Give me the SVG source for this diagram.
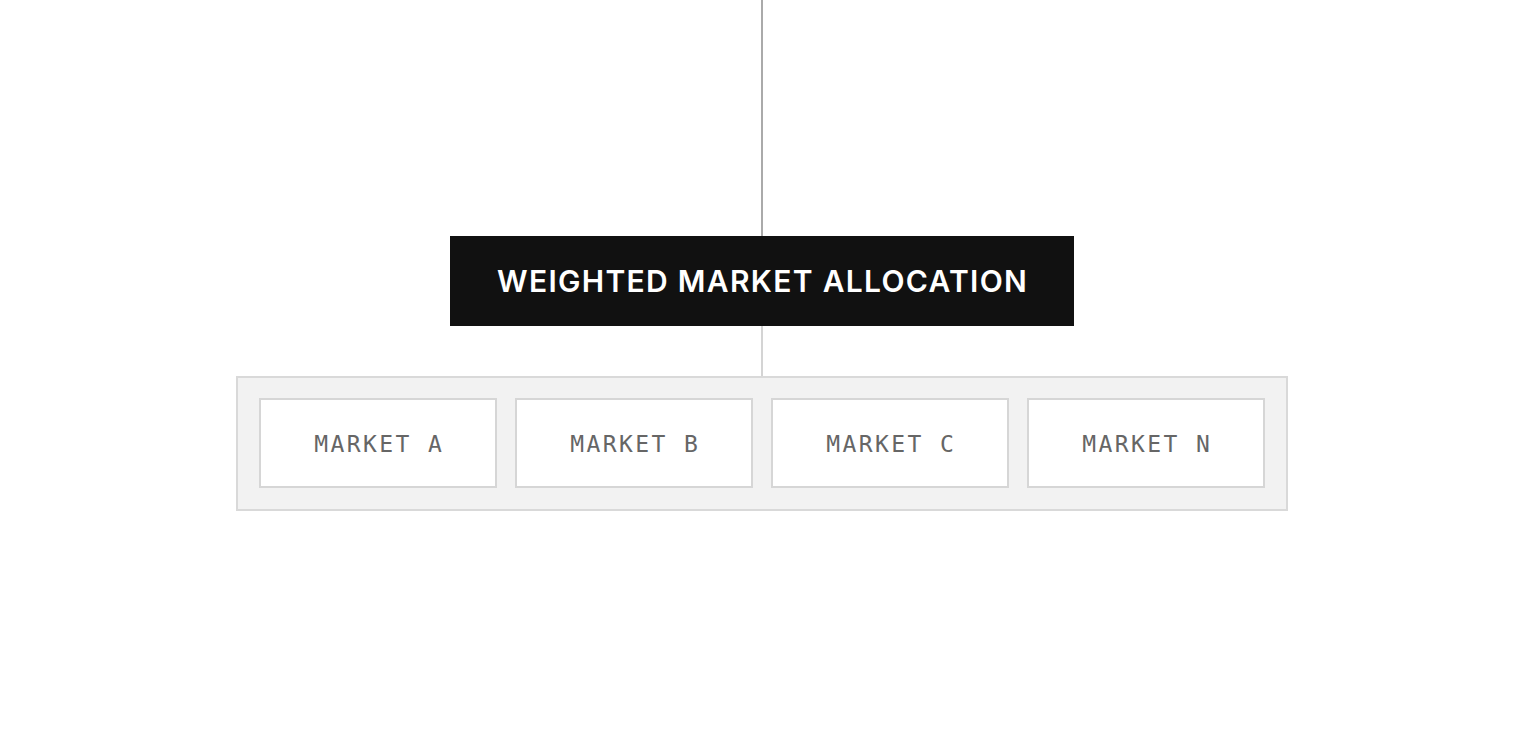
<svg xmlns="http://www.w3.org/2000/svg" width="1524" height="746" viewBox="0 0 1524 746">
<style>
.conn{fill:none;stroke-width:2}
.mk rect{fill:#fff;stroke:#d6d6d6;stroke-width:2}
.mk text{font-family:"DejaVu Sans Mono","Liberation Mono",monospace;font-size:23px;fill:#666;letter-spacing:2.4px;text-anchor:middle}
.title{font-family:Inter,"Liberation Sans",sans-serif;font-size:30px;font-weight:600;fill:#fff;text-anchor:middle;letter-spacing:1.3px}
</style>
<rect width="1524" height="746" fill="#fff"/>
<g id="connectors">
<line class="conn" x1="762" y1="0" x2="762" y2="236" stroke="#aaaaaa"/>
<line class="conn" x1="762" y1="326" x2="762" y2="376" stroke="#d4d4d4"/>
</g>
<g id="allocation">
<rect x="450" y="236" width="624" height="90" fill="#111111"/>
<text class="title" x="762.6" y="292">WEIGHTED MARKET ALLOCATION</text>
</g>
<g id="markets">
<rect x="237" y="377" width="1050" height="133" fill="#f2f2f2" stroke="#d9d9d9" stroke-width="2"/>
</g>
<g id="market-a" class="mk"><rect x="260" y="399" width="236" height="88"/><text x="379.2" y="452">MARKET A</text></g>
<g id="market-b" class="mk"><rect x="516" y="399" width="236" height="88"/><text x="635.2" y="452">MARKET B</text></g>
<g id="market-c" class="mk"><rect x="772" y="399" width="236" height="88"/><text x="891.2" y="452">MARKET C</text></g>
<g id="market-n" class="mk"><rect x="1028" y="399" width="236" height="88"/><text x="1147.2" y="452">MARKET N</text></g>
</svg>
